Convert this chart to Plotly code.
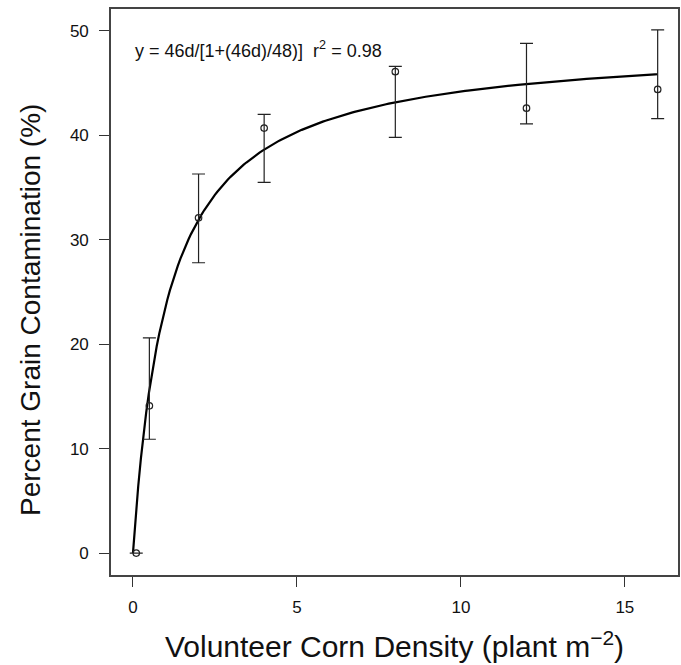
import numpy as np
import plotly.graph_objects as go

# Observed data
density = [0.1, 0.5, 2, 4, 8, 12, 16]
contamination = [0.0, 14.1, 32.1, 40.7, 46.1, 42.6, 44.4]
err_upper = [0.0, 6.5, 4.2, 1.3, 0.5, 6.2, 5.7]
err_lower = [0.0, 3.2, 4.3, 5.2, 6.3, 1.5, 2.8]

# Fitted model parameters (equation shown on chart; unrounded asymptote ~48.9)
fit_a = 46
fit_b = 48.9
fit_d = np.linspace(0, 16, 200)
fit_y = fit_a * fit_d / (1 + (fit_a * fit_d) / fit_b)

x_ticks = [0, 5, 10, 15]
y_ticks = [0, 10, 20, 30, 40, 50]

font_family = "Liberation Sans, Arial, sans-serif"

fig = go.Figure()

fig.add_trace(go.Scatter(
    x=fit_d, y=fit_y, mode="lines",
    line=dict(color="black", width=2.2),
    hoverinfo="skip", showlegend=False,
))

fig.add_trace(go.Scatter(
    x=density, y=contamination, mode="markers",
    marker=dict(symbol="circle-open", size=6.5, color="#222", line=dict(width=1.2)),
    error_y=dict(type="data", symmetric=False, array=err_upper, arrayminus=err_lower,
                 color="#222", thickness=1.2, width=6.5),
    showlegend=False,
))

fig.add_annotation(
    x=0.0, y=48.2, xref="x", yref="y", xanchor="left", yanchor="middle",
    text="y = 46d/[1+(46d)/48)]  r<sup>2</sup> = 0.98",
    showarrow=False, font=dict(family=font_family, size=18, color="#111"),
)

# Y-axis title (placed as annotation to match the reference's vertical offset)
fig.add_annotation(
    x=(30 - 111) / 567, y=(575 - 310) / 566, xref="paper", yref="paper",
    xanchor="center", yanchor="middle", textangle=-90,
    text="Percent Grain Contamination (%)", showarrow=False,
    font=dict(family=font_family, size=28, color="#111"),
)

fig.update_layout(
    width=681, height=665,
    margin=dict(l=111, r=3, t=9, b=90),
    paper_bgcolor="white", plot_bgcolor="white",
    font=dict(family=font_family, color="#111"),
)

fig.update_xaxes(
    range=[-0.67, 16.62], tickvals=x_ticks, ticktext=[str(v) for v in x_ticks],
    ticks="outside", ticklen=10, tickcolor="#333", tickwidth=1.2,
    showline=True, linecolor="#444", linewidth=1.6, mirror=True,
    showgrid=False, zeroline=False, automargin=False,
    tickfont=dict(size=17, family=font_family), ticklabelstandoff=6,
    title=dict(text="Volunteer Corn Density (plant m<sup>\u22122</sup>)",
               font=dict(size=30, family=font_family), standoff=20),
)

fig.update_yaxes(
    range=[-2.1, 52.1], tickvals=y_ticks, ticktext=[str(v) for v in y_ticks],
    ticks="outside", ticklen=10, tickcolor="#333", tickwidth=1.2,
    showline=True, linecolor="#444", linewidth=1.6, mirror=True,
    showgrid=False, zeroline=False, automargin=False,
    tickfont=dict(size=17, family=font_family), ticklabelstandoff=7,
)

fig.write_html("out.html", config={"displayModeBar": False},
               post_script="document.body.style.margin='0';")
